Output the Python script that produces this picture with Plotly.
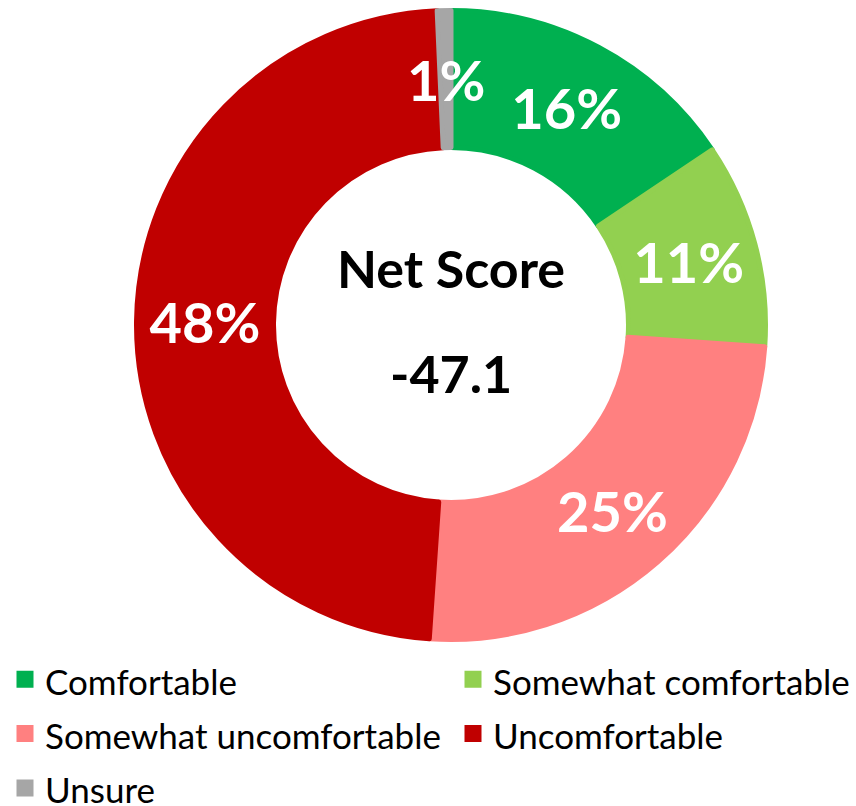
import math
import plotly.graph_objects as go

categories = ["Comfortable", "Somewhat comfortable", "Somewhat uncomfortable", "Uncomfortable", "Unsure"]
shares = [15.6, 10.5, 25.0, 48.2, 0.7]
colors = ["#00B050", "#92D050", "#FF8080", "#C00000", "#A6A6A6"]
center_title = "Net Score"
net_score = -47.1

W, H = 900, 806          # figure a bit wider than the 856 px window so two legend columns fit
cx, cy, R, r_in = 451, 325, 317, 175
LW = 5                   # slice outline in the fill colour -> larger legend squares
Rf = R - LW / 2
hole = (r_in + LW / 2) / Rf

legend_labels = [f'<span style="font-size:35px">{c}</span>' for c in categories]
texts = ["%{value:.0f}%"] * (len(shares) - 1) + [""]   # thin last slice labelled separately

fig = go.Figure(go.Pie(
    labels=legend_labels,
    values=shares,
    marker=dict(colors=colors, line=dict(width=LW, color=colors)),
    hole=hole,
    sort=False,
    direction="clockwise",
    rotation=0,
    textinfo="none",
    texttemplate=texts,
    textposition="inside",
    insidetextorientation="horizontal",
    textfont=dict(family="Lato", size=56, color="white", weight="bold"),
    domain=dict(x=[(cx - Rf) / W, (cx + Rf) / W], y=[(H - cy - Rf) / H, (H - cy + Rf) / H]),
    automargin=False,
    hoverinfo="value",
))

# label of the thin last slice at its mid-angle, on the middle radius of the ring
tot = sum(shares)
mid = (sum(shares[:-1]) + shares[-1] / 2) / tot * 2 * math.pi
rmid = (r_in + R) / 2
fig.add_annotation(x=(cx + rmid * math.sin(mid)) / W, y=(H - (cy - rmid * math.cos(mid))) / H,
                   xref="paper", yref="paper", xanchor="center", yanchor="middle",
                   text=f"{shares[-1]:.0f}%", showarrow=False,
                   font=dict(family="Lato", size=56, color="white", weight="bold"))

fig.add_annotation(x=cx / W, y=(H - 268) / H, xref="paper", yref="paper", xanchor="center",
                   yanchor="middle", text=center_title, showarrow=False,
                   font=dict(family="Lato", size=52, color="black", weight="bold"))
fig.add_annotation(x=cx / W, y=(H - 373) / H, xref="paper", yref="paper", xanchor="center",
                   yanchor="middle", text=f"{net_score:.1f}", showarrow=False,
                   font=dict(family="Lato", size=52, color="black", weight="bold"))

fig.update_layout(
    width=W, height=H,
    margin=dict(l=0, r=0, t=0, b=0, autoexpand=False),
    paper_bgcolor="white", plot_bgcolor="white",
    showlegend=True,
    legend=dict(orientation="h", x=5 / W, xanchor="left", y=(H - 647) / H, yanchor="top",
                entrywidth=403, entrywidthmode="pixels", traceorder="normal",
                font=dict(family="Lato", size=39.5, color="black")),
)

fig.write_html("out.html", config={"displayModeBar": False},
               post_script="document.body.style.margin='0';document.body.style.overflow='hidden';")
